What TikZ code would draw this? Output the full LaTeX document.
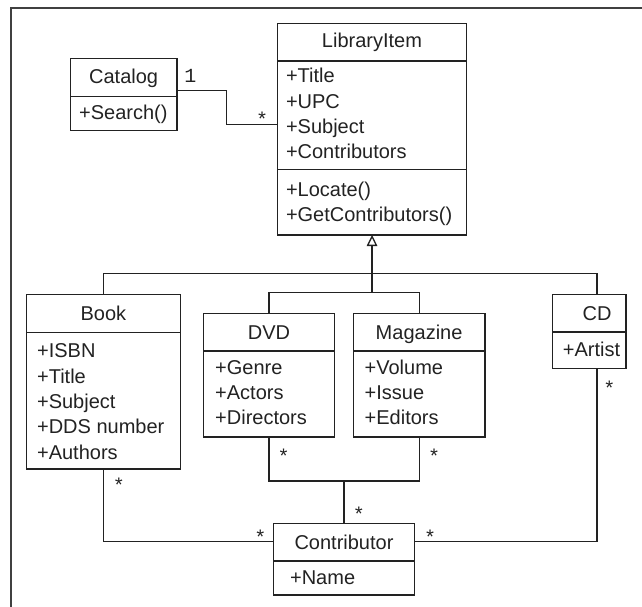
\documentclass[tikz,border=0pt]{standalone}
\usepackage{fontspec}
\setmainfont{Liberation Sans}
\newfontfamily\multfont{Liberation Mono}
\usetikzlibrary{arrows.meta,calc}
\definecolor{ink}{HTML}{222222}
\begin{document}
\begin{tikzpicture}[x=1pt,y=-1pt,
  box/.style={draw=ink, line width=1.3pt, rectangle, inner sep=0pt, outer sep=0pt, anchor=north west},
  ttl/.style={anchor=base, inner sep=0pt, text=ink, font=\fontsize{20}{24}\selectfont},
  attr/.style={anchor=base west, inner sep=0pt, text=ink, font=\fontsize{20}{24}\selectfont},
  mult/.style={anchor=base, inner sep=0pt, text=ink, font=\multfont\fontsize{20}{24}\selectfont},
  conn/.style={draw=ink, line width=1.3pt},
  sepline/.style={draw=ink, line width=1.6pt},
  inh/.style={conn, -{Triangle[open, length=11pt, width=10.5pt, line width=1.3pt]}},
  frameline/.style={draw=black!75, line width=2pt}]
\useasboundingbox (0,0) rectangle (642,607);
% frame
\draw[frameline] (642,8) -- (11,8) -- (11,607);

% Catalog
\node[box, minimum width=106.5pt, minimum height=72pt] (cat) at (70.4,58.7) {};
\draw[sepline] (cat.west |- 0,96.7) -- (cat.east |- 0,96.7);
\node[ttl] (catT) at (123.65,83.4) {Catalog};
\node[attr] (catA1) at (79,119.4) {+Search()};

% LibraryItem
\node[box, minimum width=189.5pt, minimum height=211.7pt] (lib) at (277.3,23.3) {};
\draw[sepline] (lib.west |- 0,61) -- (lib.east |- 0,61);
\draw[sepline] (lib.west |- 0,169.3) -- (lib.east |- 0,169.3);
\node[ttl] (libT) at (372,47.7) {LibraryItem};
\node[attr] (libA1) at (285.8,82.7) {+Title};
\node[attr] (libA2) at (285.8,108.1) {+UPC};
\node[attr] (libA3) at (285.8,133.5) {+Subject};
\node[attr] (libA4) at (285.8,158.9) {+Contributors};
\node[attr] (libM1) at (285.8,196) {+Locate()};
\node[attr] (libM2) at (285.8,221.4) {+GetContributors()};

% Book
\node[box, minimum width=154.4pt, minimum height=174.7pt] (book) at (26.2,294.3) {};
\draw[sepline] (book.west |- 0,332.3) -- (book.east |- 0,332.3);
\node[ttl] (bookT) at (103.4,320) {Book};
\node[attr] (bookA1) at (36.9,357.7) {+ISBN};
\node[attr] (bookA2) at (36.9,383.1) {+Title};
\node[attr] (bookA3) at (36.9,408.5) {+Subject};
\node[attr] (bookA4) at (36.9,433.9) {+DDS number};
\node[attr] (bookA5) at (36.9,459.3) {+Authors};

% DVD
\node[box, minimum width=131pt, minimum height=123.7pt] (dvd) at (203.5,313.3) {};
\draw[sepline] (dvd.west |- 0,351) -- (dvd.east |- 0,351);
\node[ttl] (dvdT) at (269,339) {DVD};
\node[attr] (dvdA1) at (215,374) {+Genre};
\node[attr] (dvdA2) at (215,399.4) {+Actors};
\node[attr] (dvdA3) at (215,424.8) {+Directors};

% Magazine
\node[box, minimum width=131.5pt, minimum height=123.7pt] (mag) at (353.4,313.3) {};
\draw[sepline] (mag.west |- 0,351) -- (mag.east |- 0,351);
\node[ttl] (magT) at (419.1,339) {Magazine};
\node[attr] (magA1) at (364.5,374) {+Volume};
\node[attr] (magA2) at (364.5,399.4) {+Issue};
\node[attr] (magA3) at (364.5,424.8) {+Editors};

% CD
\node[box, minimum width=73.7pt, minimum height=74pt] (cd) at (552.3,294.3) {};
\draw[sepline] (cd.west |- 0,332) -- (cd.east |- 0,332);
\node[ttl] (cdT) at (597,320) {CD};
\node[attr] (cdA1) at (562.7,356) {+Artist};

% Contributor
\node[box, minimum width=140.7pt, minimum height=71.7pt] (con) at (273.6,523.3) {};
\draw[sepline] (con.west |- 0,561) -- (con.east |- 0,561);
\node[ttl] (conT) at (344,549.4) {Contributor};
\node[attr] (conA1) at (289.9,584.4) {+Name};

% connectors
\draw[conn] (cat.east |- 0,90.7) -| (226.5,124.3) -- (lib.west |- 0,124.3);
\draw[conn] (book.north) -- ++(0,-21) -| (cdT |- cd.north);
\draw[conn] (dvd.north) -- ++(0,-21) -| (mag.north);
\draw[inh] (lib.south |- 0,292.3) -- (lib.south);
\draw[conn] (dvd.south) -- ++(0,44) -| (mag.south);
\draw[conn] (con.north) -- (con.north |- 0,481);
\draw[conn] (book.south) |- (con.west |- 0,541.7);
\draw[conn] (cdT |- cd.south) |- (con.east |- 0,541.7);

% multiplicities
\node[mult, anchor=center] (m1) at (190.4,76) {1};
\node[mult] (m2) at (262,126) {*};
\node[mult] (m3) at (118.8,492.7) {*};
\node[mult] (m4) at (260.4,544) {*};
\node[mult] (m5) at (283.5,463.3) {*};
\node[mult] (m6) at (434,463.3) {*};
\node[mult] (m7) at (358.8,521) {*};
\node[mult] (m8) at (609.3,395) {*};
\node[mult] (m9) at (430,544) {*};
\end{tikzpicture}
\end{document}
